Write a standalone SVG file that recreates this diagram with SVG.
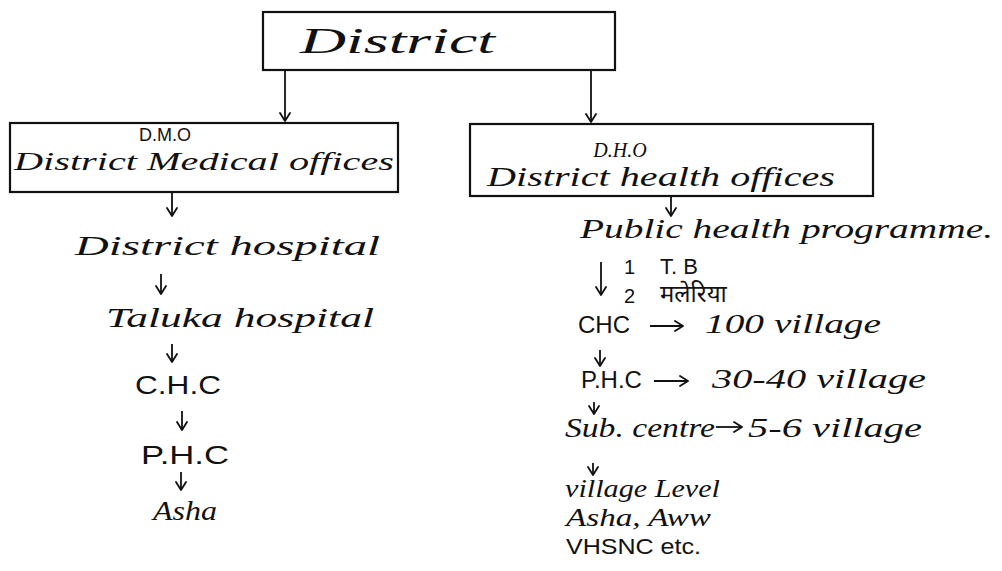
<svg xmlns="http://www.w3.org/2000/svg" width="1002" height="571" viewBox="0 0 1002 571">
<defs>
<marker id="ah" viewBox="0 0 12 12" refX="11" refY="6" markerWidth="12" markerHeight="12" markerUnits="userSpaceOnUse" orient="auto">
<path d="M3,1 L11,6 L3,11" fill="none" stroke="#111" stroke-width="1.8" stroke-linecap="round" stroke-linejoin="round"/>
</marker>
</defs>
<style>
.box{fill:#fff;stroke:#111;stroke-width:2.2}
.t{font-family:"Liberation Serif","Noto Sans","Noto Sans CJK SC",serif;font-style:italic;fill:#111}
.s{font-family:"Liberation Sans","Noto Sans","Noto Sans CJK SC",sans-serif;fill:#111}
.c{stroke:#111;stroke-width:1.8;fill:none}
</style>
<rect width="1002" height="571" fill="#fff"/>

<g id="connectors">
<line class="c" x1="285" y1="70" x2="285" y2="121" marker-end="url(#ah)"/>
<line class="c" x1="591" y1="70" x2="591" y2="122" marker-end="url(#ah)"/>
<line class="c" x1="172" y1="193" x2="172" y2="216" marker-end="url(#ah)"/>
<line class="c" x1="161" y1="274" x2="161" y2="294" marker-end="url(#ah)"/>
<line class="c" x1="172" y1="344" x2="172" y2="362" marker-end="url(#ah)"/>
<line class="c" x1="182" y1="411" x2="182" y2="430" marker-end="url(#ah)"/>
<line class="c" x1="181" y1="472" x2="181" y2="490" marker-end="url(#ah)"/>
<line class="c" x1="671" y1="197" x2="671" y2="216" marker-end="url(#ah)"/>
<line class="c" x1="601" y1="262" x2="601" y2="295" marker-end="url(#ah)"/>
<line class="c" x1="600" y1="350" x2="600" y2="366" marker-end="url(#ah)"/>
<line class="c" x1="594" y1="402" x2="594" y2="414" marker-end="url(#ah)"/>
<line class="c" x1="593" y1="463" x2="593" y2="475" marker-end="url(#ah)"/>
</g>

<g id="district">
<rect class="box" x="263" y="12" width="352" height="58"/>
<text class="t" x="300" y="53" font-size="36" textLength="195" lengthAdjust="spacingAndGlyphs">District</text>
</g>

<g id="dmo">
<rect class="box" x="10" y="123" width="388" height="69"/>
<text class="s" x="165" y="141" font-size="18" text-anchor="middle">D.M.O</text>
<text class="t" x="14" y="170" font-size="26" textLength="380" lengthAdjust="spacingAndGlyphs">District Medical offices</text>
</g>

<g id="dho">
<rect class="box" x="470" y="124" width="403" height="72"/>
<text class="t" x="620" y="157" font-size="20" text-anchor="middle">D.H.O</text>
<text class="t" x="487" y="186" font-size="27" textLength="348" lengthAdjust="spacingAndGlyphs">District health offices</text>
</g>

<g id="district-hospital">
<text class="t" x="75" y="255" font-size="28" textLength="305" lengthAdjust="spacingAndGlyphs">District hospital</text>
</g>
<g id="taluka-hospital">
<text class="t" x="106" y="327" font-size="28" textLength="268" lengthAdjust="spacingAndGlyphs">Taluka hospital</text>
</g>
<g id="chc-left">
<text class="s" x="135" y="394" font-size="26" textLength="86" lengthAdjust="spacingAndGlyphs">C.H.C</text>
</g>
<g id="phc-left">
<text class="s" x="141" y="464" font-size="26" textLength="88" lengthAdjust="spacingAndGlyphs">P.H.C</text>
</g>
<g id="asha-left">
<text class="t" x="153" y="520" font-size="28" textLength="64" lengthAdjust="spacingAndGlyphs">Asha</text>
</g>

<g id="public-health">
<text class="t" x="580" y="238" font-size="28" textLength="413" lengthAdjust="spacingAndGlyphs">Public health programme.</text>
</g>
<g id="programmes">
<text class="s" x="624" y="274" font-size="20">1</text>
<text class="s" x="660" y="274" font-size="22">T. B</text>
<text class="s" x="624" y="303" font-size="20">2</text>
<text class="s" x="660" y="302" font-size="24" style="font-family:'Noto Sans Devanagari','Noto Sans','Lohit Devanagari',sans-serif">मलेरिया</text>
</g>
<g id="chc-right">
<text class="s" x="578" y="333" font-size="24">CHC</text>
<line class="c" x1="650" y1="326" x2="683" y2="326" marker-end="url(#ah)"/>
<text class="t" x="705" y="333" font-size="28" textLength="176" lengthAdjust="spacingAndGlyphs">100 village</text>
</g>
<g id="phc-right">
<text class="s" x="581" y="388" font-size="24">P.H.C</text>
<line class="c" x1="654" y1="381" x2="688" y2="381" marker-end="url(#ah)"/>
<text class="t" x="712" y="388" font-size="28" textLength="214" lengthAdjust="spacingAndGlyphs">30-40 village</text>
</g>
<g id="subcentre">
<text class="t" x="565" y="437" font-size="28" textLength="150" lengthAdjust="spacingAndGlyphs">Sub. centre</text>
<line class="c" x1="716" y1="427" x2="742" y2="427" marker-end="url(#ah)"/>
<text class="t" x="748" y="437" font-size="28" textLength="174" lengthAdjust="spacingAndGlyphs">5-6 village</text>
</g>
<g id="village-level">
<text class="t" x="565" y="497" font-size="26" textLength="155" lengthAdjust="spacingAndGlyphs">village Level</text>
<text class="t" x="566" y="526" font-size="26" textLength="145" lengthAdjust="spacingAndGlyphs">Asha, Aww</text>
<text class="s" x="566" y="554" font-size="22" textLength="135" lengthAdjust="spacingAndGlyphs">VHSNC etc.</text>
</g>
</svg>
